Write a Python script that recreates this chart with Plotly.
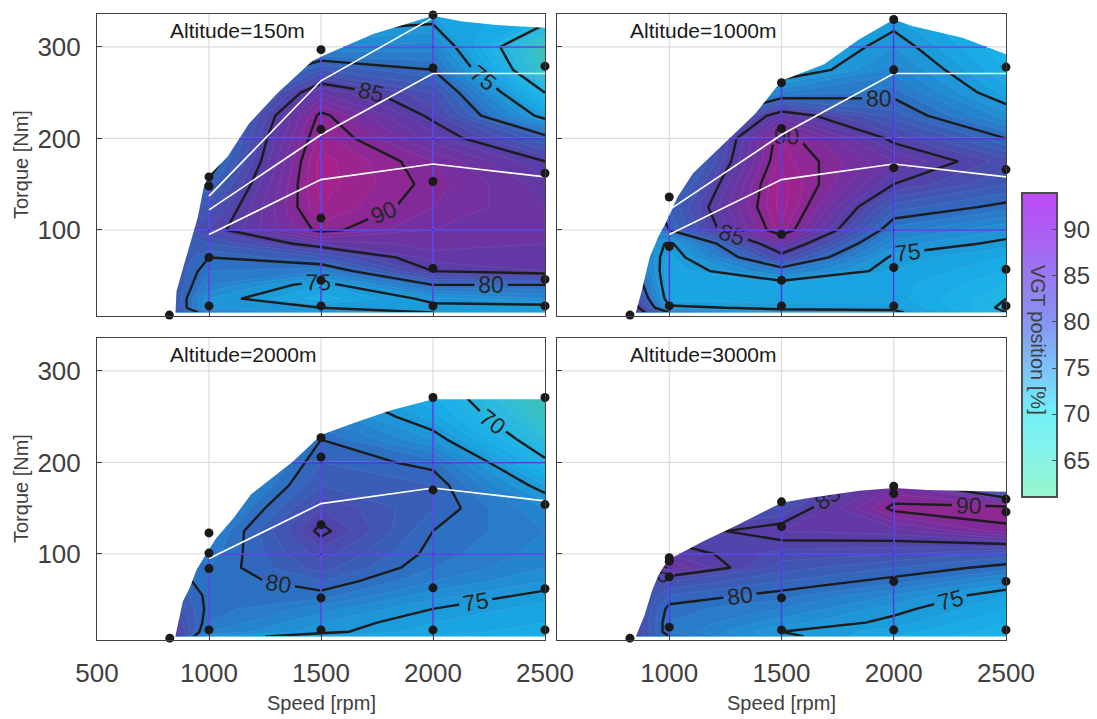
import numpy as np
import plotly.graph_objects as go

# ---------------- data ----------------
SPEEDS = [850, 1000, 1500, 2000, 2500]
TORQUES = [10, 15, 25, 40, 55, 70, 85, 100, 125, 150, 175, 200, 225, 250, 275, 300, 335]

# VGT position [%], rows = TORQUES, cols = SPEEDS
VGT_150 = [
    [82, 79, 76, 75, 74],
    [82, 76, 75, 74.5, 74],
    [82, 76, 72.5, 75.5, 77],
    [82, 78, 74, 80, 80],
    [82, 79, 78, 85, 86],
    [82, 80, 82, 86.5, 86.5],
    [82, 82, 86, 87.5, 87],
    [82, 84, 90.5, 88, 87],
    [81, 82.5, 92, 89, 87],
    [80, 80.5, 92.5, 89.5, 86.5],
    [79, 78.5, 92.5, 89, 85],
    [78, 78, 91.5, 86.5, 81],
    [77, 77, 90.5, 84.5, 74],
    [76, 76, 87, 83, 70],
    [75, 75, 82, 80, 66],
    [74, 74, 77, 77.5, 65],
    [73, 73, 73, 74, 72],
]
VGT_1000 = [
    [87, 80, 76, 75.5, 70],
    [86, 75.5, 74.5, 74.5, 69.5],
    [84, 73.5, 73.5, 73.5, 70],
    [82, 73, 73.5, 73.5, 71],
    [80, 73, 78.5, 74, 72],
    [79, 73.5, 84, 74.5, 73],
    [78, 74.5, 87.5, 76.5, 74.5],
    [78, 80, 91.5, 78.5, 76],
    [78, 81, 92.5, 81.5, 79.5],
    [77, 79, 92.5, 85, 82],
    [76, 77, 91.5, 87, 83.5],
    [75, 76, 91, 84.5, 80],
    [74, 75, 86.5, 81.5, 76.5],
    [73, 74, 78, 79.5, 73.5],
    [72, 73, 73, 77.5, 72],
    [71, 72, 72, 76, 71],
    [70, 71, 71, 74, 70],
]
VGT_2000 = [
    [85, 76, 74, 73, 72],
    [85, 78, 75.5, 73.5, 72.5],
    [84, 79, 76, 74, 73],
    [83, 79.5, 77.5, 75, 73.5],
    [82, 79.5, 79.5, 76.5, 74.5],
    [81, 79, 81, 78, 76],
    [80, 79, 82.5, 79, 77],
    [80, 78.5, 83.5, 79.5, 77.5],
    [79, 77.5, 85.5, 80, 78],
    [78, 76, 84, 81, 77],
    [77, 75, 82, 81, 74],
    [76, 74, 81, 79.5, 70.5],
    [75, 73, 80, 76, 68],
    [74, 72, 78, 73.5, 66],
    [73, 71, 76, 72, 64.5],
    [72, 70, 74, 70, 64],
    [71, 69, 72, 69, 64],
]
VGT_3000 = [
    [84, 80, 75.5, 73, 71],
    [84, 79, 75, 73.5, 71.5],
    [84, 79, 76.5, 74.5, 72],
    [84, 79.5, 78, 75.5, 73],
    [84, 81, 79.5, 77, 74],
    [84, 83, 81, 79.5, 76.5],
    [84, 88, 82.5, 81, 79.5],
    [84, 86, 83.5, 83, 81.5],
    [84, 84, 86, 86.5, 89.5],
    [84, 83, 83, 90.5, 91],
    [83, 82, 81, 88, 78],
    [82, 81, 80, 86, 77],
    [81, 80, 79, 84, 76],
    [80, 79, 78, 82, 75],
    [79, 78, 77, 80, 74],
    [78, 77, 76, 78, 73],
    [77, 76, 75, 76, 72],
]

# operating envelope (upper limit of the map)
ENV1_S = [850, 855, 886, 950, 978, 1005, 1083, 1178, 1304, 1462, 1525, 1730, 2000, 2124, 2282, 2500]
ENV1_T = [9, 33, 60, 114, 149, 161, 180, 216, 249, 285, 292, 314, 334, 328, 324, 321]
ENV2_S = [850, 875, 914, 952, 991, 1037, 1106, 1229, 1383, 1500, 1690, 1845, 2000, 2082, 2306, 2500]
ENV2_T = [9, 31, 71, 93, 111, 136, 162, 191, 227, 263, 281, 308, 330, 323, 310, 292]
ENV3_S = [850, 883, 914, 945, 977, 1031, 1109, 1187, 1281, 1375, 1500, 1656, 1813, 2000, 2500]
ENV3_T = [10, 48, 63, 83, 96, 117, 139, 165, 183, 201, 230, 244, 257, 269, 269]
ENV4_S = [850, 891, 922, 952, 991, 1029, 1152, 1306, 1500, 1614, 1845, 2000, 2152, 2500]
ENV4_T = [9, 34, 59, 77, 92, 98, 114, 132, 156, 161, 169, 172, 170, 168]

# measured operating points
P1_S = [823, 1000, 1000, 1000, 1000, 1500, 1500, 1500, 1500, 1500, 2000, 2000, 2000, 2000, 2000, 2500, 2500, 2500, 2500]
P1_T = [7, 17, 70, 148, 158, 17, 45, 113, 210, 297, 17, 58, 153, 277, 335, 17, 46, 162, 279]
P2_S = [825, 1000, 1000, 1000, 1500, 1500, 1500, 1500, 1500, 2000, 2000, 2000, 2000, 2000, 2500, 2500, 2500, 2500]
P2_T = [7, 17, 82, 136, 17, 45, 95, 211, 261, 17, 59, 168, 275, 330, 17, 57, 166, 278]
P3_S = [825, 1000, 1000, 1000, 1000, 1500, 1500, 1500, 1500, 1500, 2000, 2000, 2000, 2000, 2500, 2500, 2500, 2500]
P3_T = [8, 17, 84, 101, 123, 17, 52, 132, 206, 227, 17, 63, 170, 271, 17, 62, 154, 271]
P4_S = [825, 1000, 1000, 1000, 1000, 1500, 1500, 1500, 1500, 2000, 2000, 2000, 2000, 2500, 2500, 2500, 2500]
P4_T = [8, 20, 75, 92, 96, 17, 52, 130, 157, 17, 70, 166, 174, 17, 70, 146, 160]

# white reference lines
WL_A_S = [1000, 1500, 2000]
WL_A_T = [137, 263, 332]
WL_B_S = [1000, 1500, 2000, 2500]
WL_B_T = [122, 204, 271, 271]
WL_C_S = [1000, 1500, 2000, 2500]
WL_C_T = [95, 155, 172, 158]

TITLES = ["Altitude=150m", "Altitude=1000m", "Altitude=2000m", "Altitude=3000m"]
X_TICKS = [500, 1000, 1500, 2000, 2500]
Y_TICKS = [100, 200, 300]
CB_TICKS = [65, 70, 75, 80, 85, 90]
X_RANGE = [500, 2500]
Y_RANGE = [6, 336]
Z_MIN, Z_MAX = 61, 94

FILL_LEVELS = [61, 65, 68, 72, 75, 78, 80, 82, 85, 88, 90, 92, 94]
FILL_COLORS = ['#4CC9A2', '#3EC1B4', '#2EBCDC', '#18AEE8', '#1C9ADA', '#2581CC', '#2F6CC0',
               '#3D59B4', '#5540A8', '#6F31A0', '#892896', '#A2228C', '#B21E86']
BAR_LEVELS = [61, 66, 70, 75, 80, 85, 90, 94]
BAR_COLORS = ['#96F7CE', '#84F3EA', '#72F1F9', '#7BC3F8', '#8795F3', '#9879F1', '#AD5CF3', '#BF4AF8']

# ---------------- figure ----------------
FONT = "Liberation Sans, Arial, sans-serif"
W, H = 1097, 719


def scale(levels, colors):
    return [[(v - Z_MIN) / (Z_MAX - Z_MIN), c] for v, c in zip(levels, colors)]


FILL_SCALE = scale(FILL_LEVELS, FILL_COLORS)
BAR_SCALE = scale(BAR_LEVELS, BAR_COLORS)

panels = [
    dict(z=VGT_150, env=(ENV1_S, ENV1_T), pts=(P1_S, P1_T),
         white=[(WL_A_S, WL_A_T), (WL_B_S, WL_B_T), (WL_C_S, WL_C_T)]),
    dict(z=VGT_1000, env=(ENV2_S, ENV2_T), pts=(P2_S, P2_T),
         white=[(WL_B_S, WL_B_T), (WL_C_S, WL_C_T)]),
    dict(z=VGT_2000, env=(ENV3_S, ENV3_T), pts=(P3_S, P3_T),
         white=[(WL_C_S, WL_C_T)]),
    dict(z=VGT_3000, env=(ENV4_S, ENV4_T), pts=(P4_S, P4_T), white=[]),
]

px_x = [(97, 545), (557, 1006), (97, 545), (557, 1006)]
px_y = [(14, 316), (14, 316), (338, 640), (338, 640)]

fig = go.Figure()

for i, p in enumerate(panels):
    xa = 'x' if i == 0 else f'x{i+1}'
    ya = 'y' if i == 0 else f'y{i+1}'
    common = dict(xaxis=xa, yaxis=ya, showlegend=False, hoverinfo='skip')
    # filled contours (fine levels, faint band edges)
    fig.add_trace(go.Contour(x=SPEEDS, y=TORQUES, z=p['z'], colorscale=FILL_SCALE,
                             zmin=Z_MIN, zmax=Z_MAX, zauto=False, showscale=False,
                             contours=dict(start=Z_MIN, end=Z_MAX, size=1, coloring='fill', showlines=True),
                             line=dict(width=0.6, color='rgba(255,255,255,0.13)', smoothing=0), **common))
    # labelled iso-lines
    fig.add_trace(go.Contour(x=SPEEDS, y=TORQUES, z=p['z'], showscale=False,
                             contours=dict(start=65, end=90, size=5, coloring='none', showlabels=True,
                                           labelfont=dict(size=23, color='#262626', family=FONT)),
                             line=dict(color='#1c1c1c', width=2.4, smoothing=0), **common))
    # mask outside the operating envelope
    es, et = p['env']
    mx = list(es) + [2700, 2700, 300, 300]
    my = list(et) + [et[-1], 400, 400, et[0]]
    fig.add_trace(go.Scatter(x=mx, y=my, mode='lines', fill='toself', fillcolor='white',
                             line=dict(width=0, color='white'), **common))
    # gray grid lines
    gx, gy = [], []
    for v in X_TICKS[1:-1]:
        gx += [v, v, None]
        gy += [Y_RANGE[0], Y_RANGE[1], None]
    for g in Y_TICKS:
        gx += [X_RANGE[0], X_RANGE[1], None]
        gy += [g, g, None]
    fig.add_trace(go.Scatter(x=gx, y=gy, mode='lines', line=dict(color='#DCDCDC', width=1.2), **common))
    # blue grid lines seen through the map
    es_a, et_a = np.array(es, float), np.array(et, float)
    k = int(np.argmax(et_a))
    bx, by = [], []
    for v in X_TICKS[1:-1]:
        top = float(np.interp(v, es_a, et_a))
        bx += [v, v, None]
        by += [TORQUES[0], top, None]
    for g in Y_TICKS:
        if g >= et_a[k]:
            continue
        s_left = float(np.interp(g, et_a[:k + 1], es_a[:k + 1]))
        if g <= et_a[-1]:
            s_right = SPEEDS[-1]
        else:
            s_right = float(np.interp(g, et_a[k:][::-1], es_a[k:][::-1]))
        bx += [s_left, s_right, None]
        by += [g, g, None]
    fig.add_trace(go.Scatter(x=bx, y=by, mode='lines', line=dict(color='rgba(52,30,232,0.85)', width=1.6),
                             **common))
    # white lines
    for ws, wt in p['white']:
        fig.add_trace(go.Scatter(x=ws, y=wt, mode='lines', line=dict(color='white', width=1.6), **common))
    # points
    fig.add_trace(go.Scatter(x=p['pts'][0], y=p['pts'][1], mode='markers', cliponaxis=False,
                             marker=dict(color='#1a1a1a', size=9), **common))

# dummy trace carrying the colour bar
fig.add_trace(go.Scatter(x=[600], y=[1000], xaxis='x', yaxis='y', mode='markers', showlegend=False,
                         hoverinfo='skip',
                         marker=dict(color=[75], cmin=Z_MIN, cmax=Z_MAX, colorscale=BAR_SCALE, showscale=True,
                                     colorbar=dict(x=1022 / W, xanchor='left', xpad=0,
                                                   y=1 - 345 / H, yanchor='middle', ypad=0,
                                                   len=304, lenmode='pixels', thickness=35,
                                                   thicknessmode='pixels', outlinewidth=2,
                                                   outlinecolor='#4d4d4d', tickvals=CB_TICKS,
                                                   ticks='inside', ticklen=6, tickcolor='#4d4d4d',
                                                   tickfont=dict(size=24, color='#404040', family=FONT)))))

layout = dict(width=W, height=H, margin=dict(l=0, r=0, t=0, b=0, autoexpand=False), paper_bgcolor='white',
              plot_bgcolor='white', font=dict(family=FONT, color='#404040'), showlegend=False)

for i in range(4):
    xa = 'xaxis' if i == 0 else f'xaxis{i+1}'
    ya = 'yaxis' if i == 0 else f'yaxis{i+1}'
    xs = 'x' if i == 0 else f'x{i+1}'
    ys = 'y' if i == 0 else f'y{i+1}'
    bottom = i >= 2
    left = i % 2 == 0
    xt = X_TICKS if left else X_TICKS[1:]
    layout[xa] = dict(domain=[px_x[i][0] / W, px_x[i][1] / W], anchor=ys, range=X_RANGE,
                      showgrid=False, zeroline=False, showline=True, mirror=True,
                      linecolor='#404040', linewidth=1, ticks='inside', ticklen=5, tickcolor='#404040',
                      tickvals=xt, showticklabels=bottom, ticklabelstandoff=10,
                      tickfont=dict(size=26, color='#404040'), layer='above traces')
    layout[ya] = dict(domain=[1 - px_y[i][1] / H, 1 - px_y[i][0] / H], anchor=xs, range=Y_RANGE,
                      showgrid=False, zeroline=False, showline=True, mirror=True,
                      linecolor='#404040', linewidth=1, ticks='inside', ticklen=5, tickcolor='#404040',
                      tickvals=Y_TICKS, showticklabels=left, ticklabelstandoff=10,
                      tickfont=dict(size=26, color='#404040'), layer='above traces')

annotations = []
for i, t in enumerate(TITLES):
    annotations.append(dict(text=t, xref='paper', yref='paper', x=(px_x[i][0] + 71) / W,
                            y=1 - (px_y[i][0] + 17) / H, xanchor='left', yanchor='middle', showarrow=False,
                            font=dict(size=21, color='#1a1a1a')))
for yc in [(14 + 316) / 2, (338 + 640) / 2]:
    annotations.append(dict(text='Torque [Nm]', xref='paper', yref='paper', x=21 / W, y=1 - yc / H,
                            xanchor='center', yanchor='middle',
                            textangle=-90, showarrow=False, font=dict(size=20, color='#404040')))
for xc in [(97 + 545) / 2, (557 + 1006) / 2]:
    annotations.append(dict(text='Speed [rpm]', xref='paper', yref='paper', x=xc / W, y=1 - 703 / H,
                            xanchor='center', yanchor='middle',
                            showarrow=False, font=dict(size=20, color='#404040')))
annotations.append(dict(text='VGT position [%]', xref='paper', yref='paper', x=1038 / W, y=1 - 340 / H,
                        xanchor='center', yanchor='middle',
                        textangle=90, showarrow=False, font=dict(size=20, color='#404040')))
layout['annotations'] = annotations

fig.update_layout(**layout)
fig.write_html("out.html")
